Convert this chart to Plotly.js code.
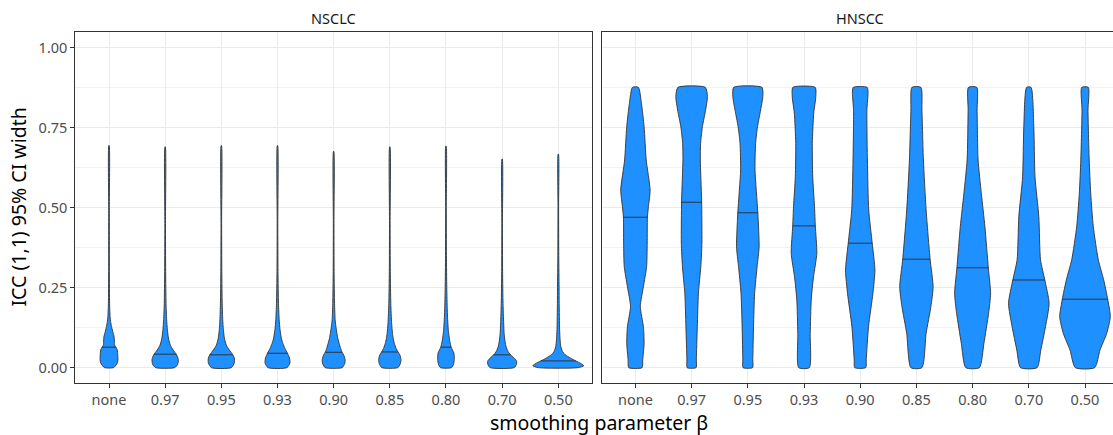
<!DOCTYPE html>
<html>
<head>
<meta charset="utf-8">
<script src="https://cdn.plot.ly/plotly-3.0.1.min.js"></script>
<style>html,body{margin:0;padding:0;background:#fff}#chart{width:1113px;height:435px}</style>
</head>
<body>
<div id="chart"></div>
<script>
// ---------------- DATA ----------------
const categories = ["none", "0.97", "0.95", "0.93", "0.90", "0.85", "0.80", "0.70", "0.50"];
const panels = ["NSCLC", "HNSCC"];

// median ICC 95% CI width per smoothing level
const nsclcMedians = [0.064, 0.042, 0.040, 0.045, 0.048, 0.049, 0.064, 0.040, 0.021];
const hnsccMedians = [0.470, 0.517, 0.484, 0.443, 0.389, 0.339, 0.312, 0.274, 0.214];

// violin density profiles (value levels and relative density)
const nsclcLevels = [
  [0,0.01,0.02,0.04,0.055,0.064,0.07,0.08,0.095,0.11,0.125,0.14,0.16,0.2,0.3,0.5,0.694],
  [0,0.01,0.025,0.04,0.055,0.07,0.09,0.12,0.15,0.2,0.3,0.45,0.69],
  [0,0.015,0.03,0.04,0.055,0.07,0.09,0.12,0.15,0.2,0.3,0.45,0.694],
  [0,0.015,0.03,0.045,0.06,0.075,0.09,0.12,0.15,0.2,0.3,0.45,0.694],
  [0,0.012,0.025,0.04,0.048,0.06,0.076,0.09,0.107,0.13,0.15,0.2,0.3,0.45,0.676],
  [0,0.012,0.025,0.04,0.05,0.06,0.076,0.09,0.107,0.14,0.2,0.3,0.45,0.69],
  [0,0.01,0.025,0.045,0.055,0.064,0.08,0.1,0.12,0.15,0.18,0.25,0.35,0.5,0.692],
  [0,0.01,0.02,0.03,0.04,0.05,0.065,0.08,0.107,0.14,0.2,0.3,0.45,0.652],
  [0,0.006,0.012,0.021,0.03,0.04,0.05,0.065,0.087,0.12,0.2,0.25,0.35,0.5,0.667]
];
const nsclcDensity = [
  [4.5,7.5,8.8,8.8,8.3,7,5.6,5.4,5.2,4,2.8,1.8,1.1,0.6,0.35,0.3,0.2],
  [9.5,12.5,13.2,11.5,8,5.2,3.4,2.2,1.5,0.9,0.5,0.3,0.2],
  [10,13,13,11.5,8,5,3.2,2,1.4,0.9,0.5,0.3,0.2],
  [9.5,12.5,12,10,7.5,5.5,4,2.5,1.7,1,0.5,0.3,0.2],
  [8.5,11,11.5,10,8.5,7,5.5,4.3,3.3,2.2,1.5,0.9,0.45,0.3,0.2],
  [8,10.5,11.2,10,8,6.3,4.5,3.5,2.7,1.8,1,0.5,0.3,0.2],
  [5.5,7.5,8.3,8,6.5,5.2,4,3,2.3,1.7,1.3,0.8,0.45,0.3,0.2],
  [12,14.3,14.5,12,8.5,6,4,3,2,1.5,0.9,0.45,0.3,0.2],
  [20,25.5,23,17.5,12,7,4.3,2.6,1.8,1.3,0.9,0.8,0.45,0.3,0.2]
];
const hnsccLevels = [
  [0,0.024,0.076,0.128,0.191,0.253,0.316,0.389,0.470,0.503,0.555,0.649,0.753,0.826,0.876],
  [0,0.024,0.128,0.232,0.316,0.389,0.524,0.649,0.701,0.753,0.805,0.847,0.876],
  [0,0.024,0.128,0.232,0.316,0.378,0.484,0.618,0.701,0.753,0.805,0.847,0.876],
  [0,0.107,0.211,0.284,0.357,0.443,0.503,0.597,0.701,0.795,0.847,0.876],
  [0,0.024,0.128,0.232,0.305,0.389,0.493,0.649,0.805,0.857,0.876],
  [0,0.107,0.191,0.253,0.339,0.493,0.649,0.805,0.876],
  [0,0.076,0.170,0.232,0.312,0.441,0.545,0.649,0.805,0.876],
  [0,0.055,0.128,0.201,0.274,0.337,0.472,0.597,0.753,0.876],
  [0,0.055,0.107,0.159,0.214,0.274,0.337,0.441,0.545,0.649,0.805,0.876]
];
const hnsccDensity = [
  [6.7,7.3,8.7,8,4.9,8,11.2,11.8,12,13,14.7,10.8,8.7,6,3],
  [4.5,4.7,5.7,6.8,9.2,10.3,10,8.7,9,10.8,14,15.8,13.7],
  [4.8,5,5.7,6.8,9.3,11.3,10,7.2,7.8,9.7,12.8,15,14.2],
  [5.3,6.2,7.2,9.5,12.8,11.3,10.5,8.7,8.3,9.7,11.8,11.2],
  [5.5,6,8.3,12.7,14.7,12,8.5,7.2,6.7,7.8,7],
  [5.5,9.7,14.5,16.7,13.7,9.7,7,5.5,4.5],
  [6.8,11.3,16,18,15.7,12.3,8.7,5.5,4.5,4.2],
  [8.3,12,16.7,20.3,16,11.7,10,6.2,5,2.2],
  [9.7,15,21.7,25.3,22.7,18.7,13.3,8.3,5.7,4.2,3,3.3]
];
const yTicks = [0, 0.25, 0.5, 0.75, 1.0];
const yTickLabels = ["0.00", "0.25", "0.50", "0.75", "1.00"];

// ---------------- STYLE ----------------
const densityScale = 1 / 56.2;   // relative density -> half-width in category units
const FILL = "#1E90FF";
const EDGE = "#333333";
const FONT = "Noto Sans, Open Sans, DejaVu Sans, sans-serif";

function widthAt(levels, dens, v) {
  for (let i = 0; i < levels.length - 1; i++) {
    if (v >= levels[i] && v <= levels[i + 1]) {
      const t = (v - levels[i]) / (levels[i + 1] - levels[i]);
      return dens[i] + t * (dens[i + 1] - dens[i]);
    }
  }
  return dens[dens.length - 1];
}

const traces = [];
function addPanel(levelsAll, densAll, medians, xa, ya) {
  categories.forEach((cat, i) => {
    const lv = levelsAll[i], dn = densAll[i];
    const xs = [], ys = [];
    for (let k = 0; k < lv.length; k++) { xs.push(i + dn[k] * densityScale); ys.push(lv[k]); }
    for (let k = lv.length - 1; k >= 0; k--) { xs.push(i - dn[k] * densityScale); ys.push(lv[k]); }
    xs.push(xs[0]); ys.push(ys[0]);
    traces.push({
      type: "scatter", mode: "lines", x: xs, y: ys, xaxis: xa, yaxis: ya,
      fill: "toself", fillcolor: FILL,
      line: { color: EDGE, width: 0.9, shape: "spline", smoothing: 0.6 },
      hoverinfo: "skip", showlegend: false
    });
    const hw = widthAt(lv, dn, medians[i]) * densityScale;
    traces.push({
      type: "scatter", mode: "lines", x: [i - hw, i + hw], y: [medians[i], medians[i]],
      xaxis: xa, yaxis: ya, line: { color: EDGE, width: 1 },
      hoverinfo: "skip", showlegend: false
    });
  });
}
addPanel(nsclcLevels, nsclcDensity, nsclcMedians, "x", "y");
addPanel(hnsccLevels, hnsccDensity, hnsccMedians, "x2", "y2");

const W = 1113, H = 435;
const yDom = [(H - 383) / H, (H - 32) / H];
const tickFont = { family: FONT, size: 14.5, color: "#4d4d4d" };
const catIdx = categories.map((c, i) => i);

function xAxis(domain, range) {
  return {
    domain: domain, range: range, tickmode: "array", tickvals: catIdx, ticktext: categories,
    showgrid: true, gridcolor: "#ebebeb", gridwidth: 1, zeroline: false,
    showline: true, linecolor: EDGE, linewidth: 1, mirror: true,
    ticks: "outside", ticklen: 4, tickcolor: EDGE, tickwidth: 1,
    tickfont: tickFont, fixedrange: true
  };
}
function yAxis(anchor, showLabels, mirror) {
  return {
    domain: yDom, range: [-0.048, 1.049], anchor: anchor,
    tickmode: "array", tickvals: yTicks, ticktext: yTickLabels, showticklabels: showLabels,
    showgrid: true, gridcolor: "#ebebeb", gridwidth: 1, zeroline: false,
    minor: { tickmode: "array", tickvals: [0.125, 0.375, 0.625, 0.875], showgrid: true, gridcolor: "#f2f2f2", gridwidth: 1 },
    showline: true, linecolor: EDGE, linewidth: 1, mirror: mirror,
    ticks: showLabels ? "outside" : "", ticklen: 4, tickcolor: EDGE, tickwidth: 1,
    tickfont: tickFont, fixedrange: true
  };
}

const layout = {
  width: W, height: H,
  margin: { l: 0, r: 0, t: 0, b: 0 },
  paper_bgcolor: "#ffffff", plot_bgcolor: "#ffffff",
  showlegend: false,
  font: { family: FONT },
  xaxis: xAxis([75.3 / W, 592 / W], [-0.6, 8.6]),
  yaxis: yAxis("x", true, true),
  xaxis2: Object.assign(xAxis([601.7 / W, 1], [-0.6, 8.498]), { anchor: "y2" }),
  yaxis2: yAxis("x2", false, false),
  annotations: [
    { text: panels[0], xref: "paper", yref: "paper", x: 333.6 / W, y: (H - 18) / H, xanchor: "center", yanchor: "middle", showarrow: false, font: { family: FONT, size: 14.5, color: "#1a1a1a" } },
    { text: panels[1], xref: "paper", yref: "paper", x: 860.2 / W, y: (H - 18) / H, xanchor: "center", yanchor: "middle", showarrow: false, font: { family: FONT, size: 14.5, color: "#1a1a1a" } },
    { text: "smoothing parameter β", xref: "paper", yref: "paper", x: 599 / W, y: (H - 422) / H, xanchor: "center", yanchor: "middle", showarrow: false, font: { family: FONT, size: 19.5, color: "#000000" } },
    { text: "ICC (1,1) 95% CI width", xref: "paper", yref: "paper", x: 18 / W, y: (H - 207.5) / H, xanchor: "center", yanchor: "middle", textangle: -90, showarrow: false, font: { family: FONT, size: 19.5, color: "#000000" } }
  ]
};

Plotly.newPlot("chart", traces, layout, { displayModeBar: false, staticPlot: true });
</script>
</body>
</html>
